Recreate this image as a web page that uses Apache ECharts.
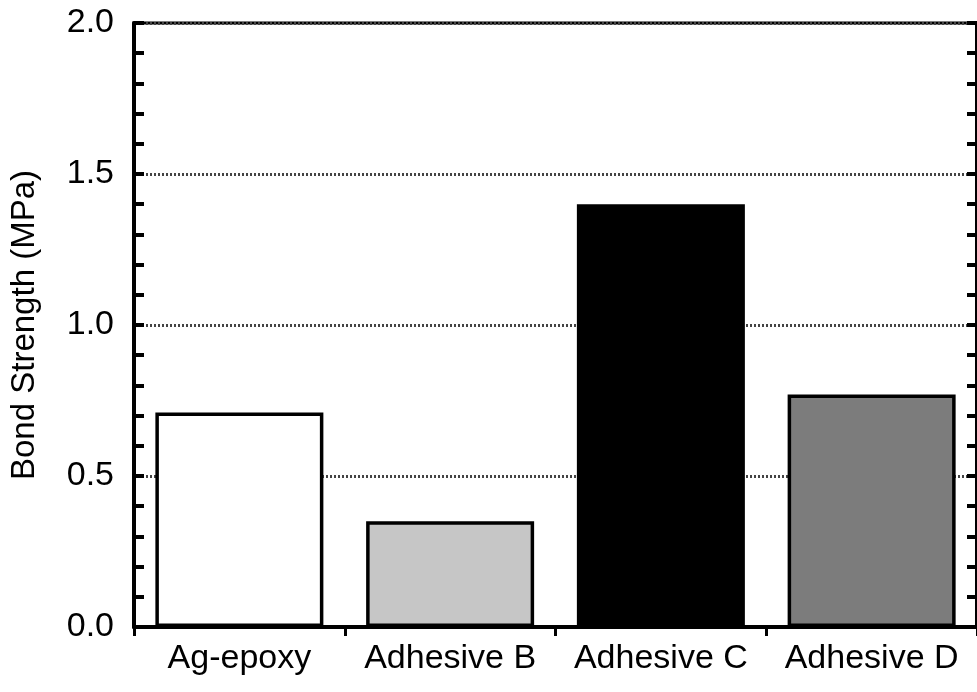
<!DOCTYPE html>
<html>
<head>
<meta charset="utf-8">
<script src="https://cdn.jsdelivr.net/npm/echarts@6/dist/echarts.min.js"></script>
<style>html,body{margin:0;padding:0;background:#fff;}#c{width:977px;height:692px;}</style>
</head>
<body>
<div id="c"></div>
<script>
const categories = ['Ag-epoxy', 'Adhesive B', 'Adhesive C', 'Adhesive D'];
const bondStrength = [0.71, 0.35, 1.40, 0.77];
const barFills = ['#ffffff', '#c6c6c6', '#000000', '#7c7c7c'];
const yTicks = [0, 0.5, 1.0, 1.5, 2.0];

const chart = echarts.init(document.getElementById('c'), null, {renderer: 'canvas'});
const font = 'Liberation Sans, Arial, Helvetica, sans-serif';
const yBase = {
  type: 'value', min: 0, max: 2, interval: 0.5,
  axisLine: {show: true, lineStyle: {color: '#000', width: 4}},
  axisTick: {show: true, inside: true, length: 10, lineStyle: {color: '#000', width: 4}},
  minorTick: {show: true, splitNumber: 5, length: 10, lineStyle: {color: '#000', width: 4}},
  splitLine: {show: false}
};
chart.setOption({
  animation: false,
  backgroundColor: '#fff',
  grid: {left: 130, right: -3, top: 23, bottom: 65, show: true, borderColor: '#000', borderWidth: 3, backgroundColor: 'transparent'},
  xAxis: {
    type: 'category', data: categories,
    axisLine: {show: true, lineStyle: {color: '#000', width: 4}},
    axisTick: {show: true, length: 9, lineStyle: {color: '#000', width: 3}},
    axisLabel: {color: '#000', fontSize: 34, fontFamily: font, margin: 15, interval: 0}
  },
  yAxis: [
    Object.assign({}, yBase, {
      position: 'left',
      name: 'Bond Strength (MPa)', nameLocation: 'middle', nameGap: 93,
      nameTextStyle: {color: '#000', fontSize: 33, fontFamily: font},
      axisLabel: {color: '#000', fontSize: 34, fontFamily: font, margin: 20,
        formatter: v => yTicks.includes(Math.round(v * 10) / 10) ? v.toFixed(1) : ''},
      splitLine: {show: true, lineStyle: {color: '#444', width: 3, type: [2, 2]}}
    }),
    Object.assign({}, yBase, {position: 'right', axisLabel: {show: false}})
  ],
  series: [{
    type: 'bar',
    data: bondStrength.map((v, i) => ({value: v, itemStyle: {color: barFills[i]}})),
    barWidth: 168,
    itemStyle: {borderColor: '#000', borderWidth: 3.5}
  }]
});
</script>
</body>
</html>
